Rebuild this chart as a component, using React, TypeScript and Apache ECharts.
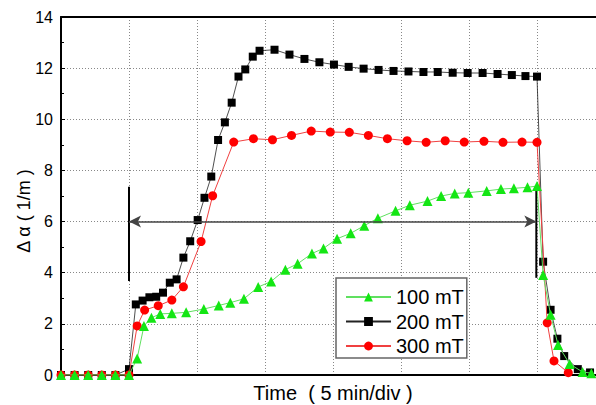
import React, { useEffect, useRef } from "react";
import * as echarts from "echarts";

// time in minutes (5 min per division), value Δα in 1/m
const series100: [number, number][] = [
  [0, 0], [1, 0], [2, 0], [3, 0], [4, 0], [5, 0], [5.6, 0.65], [6.1, 1.92], [6.65, 2.24], [7.3, 2.39],
  [8.15, 2.41], [9.2, 2.45], [10.5, 2.58], [11.6, 2.72], [12.45, 2.83], [13.45, 2.98], [14.5, 3.44],
  [15.45, 3.66], [16.5, 4.12], [17.4, 4.35], [18.45, 4.75], [19.3, 4.95], [20.3, 5.33], [21.3, 5.54],
  [22.3, 5.84], [23.3, 6.13], [24.6, 6.42], [25.65, 6.64], [26.95, 6.8], [27.95, 7.0], [28.95, 7.1],
  [29.95, 7.13], [31.3, 7.2], [32.35, 7.27], [33.3, 7.3], [34.3, 7.34], [35.0, 7.39], [35.45, 3.91],
  [36.0, 2.36], [36.55, 1.17], [37.4, 0.43], [38.35, 0.12], [39.0, 0.07],
];

const series200: [number, number][] = [
  [0, 0], [1, 0], [2, 0], [3, 0], [4, 0], [5, 0.23], [5.5, 2.76], [6.0, 2.91], [6.5, 3.04], [7.0, 3.06],
  [7.5, 3.22], [8.0, 3.61], [8.5, 3.74], [9.0, 4.59], [9.5, 5.23], [10.05, 6.06], [10.55, 6.93],
  [11.05, 7.76], [11.55, 9.19], [12.05, 9.88], [12.55, 10.65], [13.05, 11.67], [13.55, 11.95],
  [14.1, 12.45], [14.6, 12.68], [15.7, 12.72], [16.8, 12.53], [17.9, 12.36], [19.0, 12.23],
  [20.07, 12.14], [21.15, 12.05], [22.25, 11.98], [23.35, 11.93], [24.45, 11.89], [25.55, 11.87],
  [26.65, 11.85], [27.7, 11.85], [28.8, 11.82], [29.9, 11.81], [31.0, 11.81], [32.1, 11.77],
  [33.15, 11.73], [34.15, 11.69], [35.0, 11.67], [35.45, 4.43], [36.0, 2.55], [36.5, 1.42],
  [37.0, 0.74], [38.0, 0.23], [38.9, 0.1],
];

const series300: [number, number][] = [
  [0, 0], [1, 0], [2, 0], [3, 0], [4, 0], [5, 0], [5.6, 1.92], [6.15, 2.54], [7.15, 2.71], [8.15, 2.93],
  [9.0, 3.45], [10.3, 5.22], [11.15, 7.01], [12.7, 9.11], [14.15, 9.24], [15.55, 9.2], [16.95, 9.37],
  [18.4, 9.54], [19.8, 9.5], [21.2, 9.49], [22.6, 9.37], [24.0, 9.24], [25.45, 9.16], [26.85, 9.1],
  [28.25, 9.16], [29.65, 9.11], [31.1, 9.14], [32.5, 9.1], [33.9, 9.11], [35.0, 9.1], [35.75, 2.04],
  [36.25, 0.55], [37.3, 0.09],
];

const legendNames = ["100 mT", "200 mT", "300 mT"];

// annotation: interval marker bars and arrow (time, Δα)
const leftBar: [number, number][] = [[5, 3.68], [5, 7.36]];
const rightBar: [number, number][] = [[34.95, 3.8], [34.95, 7.4]];
const arrowStart: [number, number] = [5, 6];
const arrowEnd: [number, number] = [34.95, 6];

const xTitle = "Time  ( 5 min/div )";
const yTitle = "Δ α ( 1/m )";

export default function App() {
  const ref = useRef<HTMLDivElement>(null);

  useEffect(() => {
    if (!ref.current) return;
    const chart = echarts.init(ref.current, undefined, { renderer: "svg" });
    const font = "'Liberation Sans', Arial, sans-serif";
    const grid = { type: [1, 2] as any, color: "#888", width: 1 };
    chart.setOption({
      animation: false,
      backgroundColor: "#fff",
      grid: { left: 61, top: 17, right: -9, bottom: 30, containLabel: false, outerBoundsMode: "none" },
      xAxis: [
        {
          type: "value",
          min: 0,
          max: 40,
          interval: 5,
          axisLine: { show: true, onZero: false, lineStyle: { color: "#000", width: 2 } },
          axisTick: { show: false },
          axisLabel: { show: false },
          splitLine: { show: true, lineStyle: grid },
        },
        {
          type: "value",
          position: "top",
          min: 0,
          max: 40,
          interval: 5,
          axisLine: { show: true, onZero: false, lineStyle: { color: "#000", width: 2 } },
          axisTick: { show: false },
          axisLabel: { show: false },
          splitLine: { show: false },
        },
      ],
      yAxis: {
        type: "value",
        min: 0,
        max: 14,
        interval: 2,
        axisLine: { show: true, onZero: false, lineStyle: { color: "#000", width: 2 } },
        axisTick: { show: true, inside: true, length: 4, lineStyle: { color: "#000" } },
        minorTick: { show: true, splitNumber: 2, length: 3, lineStyle: { color: "#000" } },
        axisLabel: { color: "#000", fontSize: 16, fontFamily: font, margin: 8 },
        splitLine: { show: true, lineStyle: grid },
      },
      legend: {
        data: legendNames,
        orient: "vertical",
        left: 336,
        top: 278,
        padding: [9, 3, 2, 9],
        itemWidth: 45,
        itemHeight: 11,
        itemGap: 4.5,
        backgroundColor: "#fff",
        borderColor: "#666",
        borderWidth: 1.5,
        borderRadius: 0,
        textStyle: { fontSize: 20, lineHeight: 20, color: "#000", fontFamily: font },
      },
      graphic: [
        {
          type: "text",
          x: 333,
          y: 393,
          style: {
            text: xTitle,
            fontSize: 20,
            fontFamily: font,
            fill: "#000",
            textAlign: "center",
            textVerticalAlign: "middle",
          },
        },
        {
          type: "text",
          x: 24,
          y: 211,
          rotation: Math.PI / 2,
          style: {
            text: yTitle,
            fontSize: 18,
            fontFamily: font,
            fill: "#000",
            textAlign: "center",
            textVerticalAlign: "middle",
          },
        },
      ],
      series: [
        {
          name: "annotL",
          type: "line",
          data: leftBar,
          showSymbol: false,
          silent: true,
          lineStyle: { color: "#000", width: 2 },
          z: 1,
          markLine: {
            silent: true,
            symbol: ["arrow", "arrow"],
            symbolSize: [9, 12],
            label: { show: false },
            lineStyle: { color: "#444", width: 1.5, type: "solid" },
            data: [[{ coord: arrowStart }, { coord: arrowEnd }]],
          },
        },
        {
          name: "annotR",
          type: "line",
          data: rightBar,
          showSymbol: false,
          silent: true,
          lineStyle: { color: "#000", width: 2 },
          z: 1,
        },
        {
          name: "200 mT",
          type: "line",
          data: series200,
          symbol: "rect",
          symbolSize: 8,
          itemStyle: { color: "#000" },
          lineStyle: { color: "#222", width: 0.8 },
          z: 2,
        },
        {
          name: "300 mT",
          type: "line",
          data: series300,
          symbol: "circle",
          symbolSize: 9,
          itemStyle: { color: "#ff0000" },
          lineStyle: { color: "#f04040", width: 1 },
          z: 3,
        },
        {
          name: "100 mT",
          type: "line",
          data: series100,
          symbol: "triangle",
          symbolSize: 10,
          itemStyle: { color: "#14e614" },
          lineStyle: { color: "#60e060", width: 1 },
          z: 4,
        },
      ],
    });
    return () => chart.dispose();
  }, []);

  return (
    <div
      ref={ref}
      style={{ position: "fixed", left: 0, top: 0, width: 596, height: 405, background: "#fff" }}
    />
  );
}
